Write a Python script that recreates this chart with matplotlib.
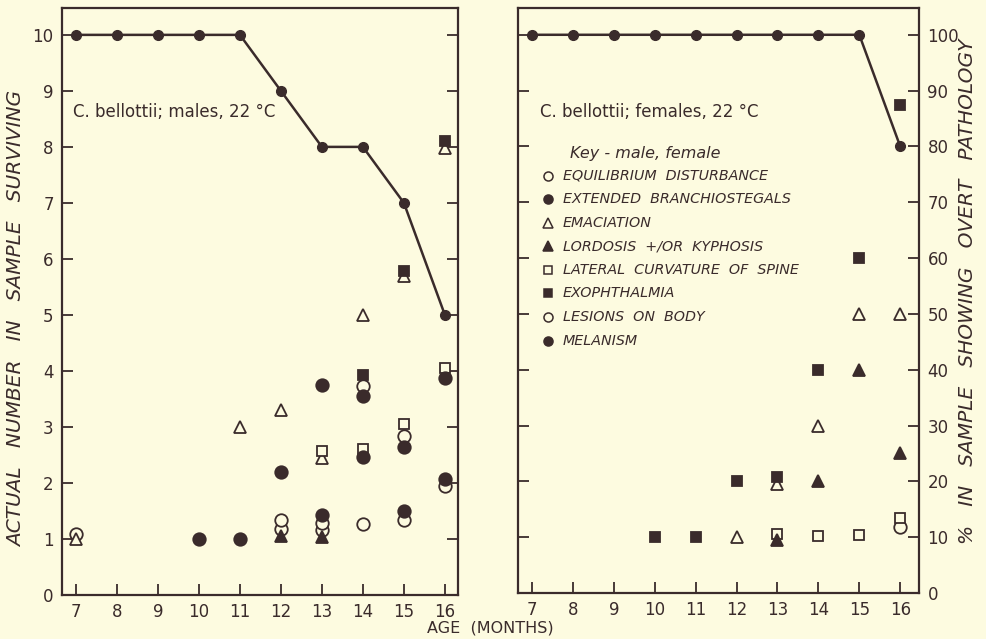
import matplotlib
matplotlib.use('Agg')
import matplotlib.pyplot as plt

# ---------------------------------------------------------------------------
# data
# ---------------------------------------------------------------------------
months = [7, 8, 9, 10, 11, 12, 13, 14, 15, 16]
male_surviving = [10, 10, 10, 10, 10, 9, 8, 8, 7, 5]
female_surviving_pct = [100, 100, 100, 100, 100, 100, 100, 100, 100, 80]

key_labels = [
    "EQUILIBRIUM  DISTURBANCE",
    "EXTENDED  BRANCHIOSTEGALS",
    "EMACIATION",
    "LORDOSIS  +/OR  KYPHOSIS",
    "LATERAL  CURVATURE  OF  SPINE",
    "EXOPHTHALMIA",
    "LESIONS  ON  BODY",
    "MELANISM",
]
key_markers = ['o', 'o', '^', '^', 's', 's', 'o', 'o']
key_filled = [False, True, False, True, False, True, False, True]

# males: actual number showing each pathology  (month, count)
male_equilibrium = ([7, 12, 13, 14, 15, 16], [1.08, 1.18, 1.16, 1.27, 1.34, 1.95])
male_branchio = ([10, 11, 12, 13, 14, 15, 16], [1.0, 1.0, 2.2, 1.42, 2.47, 1.5, 2.07])
male_emaciation = ([7, 11, 12, 13, 14, 15, 16], [1.0, 3.0, 3.3, 2.45, 5.0, 5.7, 7.98])
male_lordosis = ([12, 13], [1.05, 1.04])
male_lateral = ([13, 14, 15, 16], [2.57, 2.6, 3.05, 4.05])
male_exophthalmia = ([14, 15, 16], [3.93, 5.78, 8.1])
male_lesions = ([12, 13, 14, 15], [1.34, 1.29, 3.73, 2.84])
male_melanism = ([13, 14, 15, 16], [3.75, 3.55, 2.65, 3.87])

# females: percent showing each pathology
female_equilibrium = ([16], [11.8])
female_emaciation = ([12, 13, 14, 15, 16], [10, 19.6, 30, 50, 50])
female_lordosis = ([13, 14, 15, 16], [9.5, 20, 40, 25])
female_lateral = ([13, 14, 15, 16], [10.6, 10.2, 10.4, 13.4])
female_exophthalmia = ([10, 11, 12, 13, 14, 15, 16], [10, 10, 20, 20.7, 40, 60, 87.5])

male_series = [male_equilibrium, male_branchio, male_emaciation, male_lordosis,
               male_lateral, male_exophthalmia, male_lesions, male_melanism]
female_series = [female_equilibrium, None, female_emaciation, female_lordosis,
                 female_lateral, female_exophthalmia, None, None]

BG = '#fdfbe0'
INK = '#3a2b2b'


def draw_points(ax, series):
    # open markers first so the filled ones stay visible on top
    order = [i for i in range(len(series)) if not key_filled[i]] + \
            [i for i in range(len(series)) if key_filled[i]]
    for i in order:
        if series[i] is None:
            continue
        xs, ys = series[i]
        ms = 9 if key_markers[i] != 's' else 7.5
        ax.plot(xs, ys, linestyle='none', marker=key_markers[i], ms=ms,
                mew=1.3, mec=INK, mfc=INK if key_filled[i] else BG, zorder=4)


def style_axes(ax):
    for sp in ax.spines.values():
        sp.set_linewidth(1.6)
        sp.set_color(INK)
    ax.set_facecolor(BG)
    ax.set_xticks(months)
    ax.set_xticklabels([str(m) for m in months])
    ax.tick_params(axis='both', direction='in', length=8, width=1.3,
                   colors=INK, labelsize=12, pad=6)


fig = plt.figure(figsize=(9.86, 6.39), dpi=100, facecolor=BG)

# ---------------------------------------------------------------------------
# left panel: males
# ---------------------------------------------------------------------------
ax1 = fig.add_axes([0.0629, 0.0689, 0.4016, 0.9186])
style_axes(ax1)
ax1.plot(months, male_surviving, color=INK, lw=1.8, marker='o', ms=7,
         mfc=INK, mec=INK, zorder=5, clip_on=False)
draw_points(ax1, male_series)
ax1.set_xlim(6.66, 16.32)
ax1.set_ylim(0, 10.48)
ax1.set_yticks(range(0, 11))
ax1.tick_params(axis='y', right=True, left=True)
ax1.set_ylabel("ACTUAL   NUMBER   IN   SAMPLE   SURVIVING", fontsize=14.5,
               style='italic', color=INK)
ax1.yaxis.set_label_coords(-0.09, 0.47)
ax1.text(0.028, 0.823, "C. bellottii; males, 22 °C", transform=ax1.transAxes,
         fontsize=12, color=INK, va='center')

# ---------------------------------------------------------------------------
# right panel: females
# ---------------------------------------------------------------------------
ax2 = fig.add_axes([0.5254, 0.072, 0.4067, 0.9155])
style_axes(ax2)
ax2.plot(months, female_surviving_pct, color=INK, lw=1.8, marker='o', ms=7,
         mfc=INK, mec=INK, zorder=5, clip_on=False)
draw_points(ax2, female_series)
ax2.set_xlim(6.66, 16.46)
ax2.set_ylim(0, 104.8)
ax2.set_yticks(range(0, 101, 10))
ax2.tick_params(axis='y', left=True, right=True, labelleft=False,
                labelright=True)
ax2.yaxis.set_label_position('right')
ax2.set_ylabel("%   IN   SAMPLE   SHOWING   OVERT   PATHOLOGY", fontsize=14.5,
               style='italic', color=INK, rotation=90)
ax2.yaxis.set_label_coords(1.097, 0.515)
ax2.text(0.055, 0.822, "C. bellottii; females, 22 °C", transform=ax2.transAxes,
         fontsize=12, color=INK, va='center')

# key
ax2.text(0.13, 0.752, "Key - male, female", transform=ax2.transAxes,
         fontsize=11.5, style='italic', color=INK, va='center')
for i, lab in enumerate(key_labels):
    yy = 0.713 - i * 0.0402
    ax2.plot([0.075], [yy], transform=ax2.transAxes, marker=key_markers[i],
             ms=6.5 if key_markers[i] != 's' else 5.5, mew=1.1, mec=INK,
             mfc=INK if key_filled[i] else BG, linestyle='none', clip_on=False)
    ax2.text(0.112, yy, lab, transform=ax2.transAxes, fontsize=10.3,
             style='italic', color=INK, va='center')

fig.text(0.497, 0.017, "AGE  (MONTHS)", ha='center', va='center',
         fontsize=11.5, color=INK)

fig.savefig("out.png", dpi=100, facecolor=BG)
